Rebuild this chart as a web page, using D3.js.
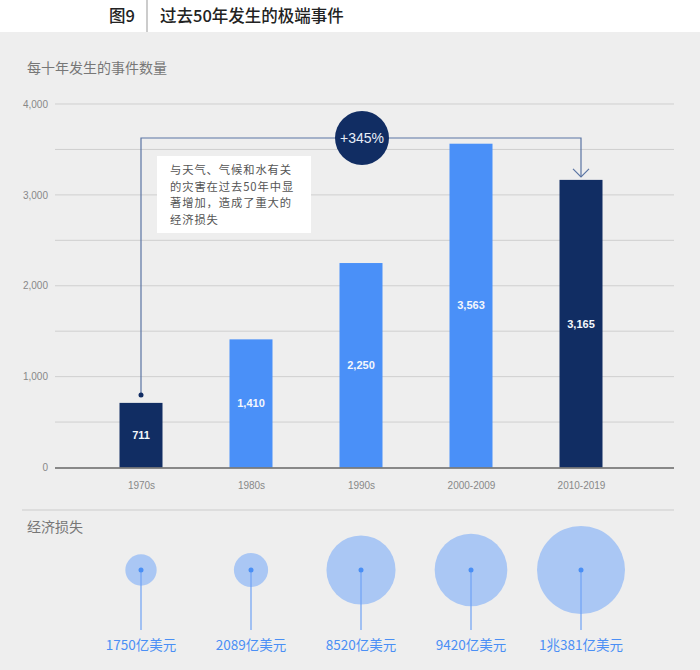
<!DOCTYPE html>
<html>
<head>
<meta charset="utf-8">
<script src="https://cdn.jsdelivr.net/npm/d3@7"></script>
<style>
  body { margin: 0; background: #eeeeee; }
  svg { display: block; }
</style>
</head>
<body>
<div id="chart"></div>
<script>
// data
var decades = ["1970s", "1980s", "1990s", "2000-2009", "2010-2019"];
var eventCounts = [711, 1410, 2250, 3563, 3165];
var highlight = [true, false, false, false, true];
var lossValues = [175, 208.9, 852, 942, 1381]; // 十亿美元
var lossLabels = ["1750亿美元", "2089亿美元", "8520亿美元", "9420亿美元", "1兆381亿美元"];
var yTicks = [0, 1000, 2000, 3000, 4000];
var noteLines = ["与天气、气候和水有关", "的灾害在过去50年中显", "著增加，造成了重大的", "经济损失"];

var svgWidth = 700;
var svgHeight = 670;
var cjk = "'Noto Sans CJK SC', 'Noto Sans', sans-serif";
var latin = "'Liberation Sans', Arial, sans-serif";

var svg = d3.select("#chart")
  .append("svg")
  .attr("width", svgWidth)
  .attr("height", svgHeight);

svg.append("rect")
  .attr("width", svgWidth).attr("height", svgHeight)
  .attr("fill", "#eeeeee");

// header band
svg.append("rect")
  .attr("width", svgWidth).attr("height", 32)
  .attr("fill", "#ffffff");
svg.append("line")
  .attr("x1", 147).attr("x2", 147).attr("y1", 0).attr("y2", 32)
  .attr("stroke", "#999").attr("stroke-width", 1);
svg.append("text")
  .attr("x", 135).attr("y", 22)
  .attr("text-anchor", "end")
  .style("font-family", cjk).style("font-size", "16.5px").style("font-weight", 500).style("fill", "#222")
  .text("图9");
svg.append("text")
  .attr("x", 160).attr("y", 22)
  .style("font-family", cjk).style("font-size", "16.5px").style("font-weight", 500).style("fill", "#222")
  .text("过去50年发生的极端事件");

svg.append("text")
  .attr("x", 27).attr("y", 73)
  .style("font-family", cjk).style("font-size", "14px").style("fill", "#777")
  .text("每十年发生的事件数量");

// scales
var x = d3.scalePoint()
  .domain(decades)
  .range([86, 636])
  .padding(0.5);

var y = d3.scaleLinear()
  .domain([0, 4000])
  .range([467.5, 104]);

var barWidth = 43;

// gridlines every 500, labels every 1000
var grid = svg.append("g");
grid.selectAll("line")
  .data(d3.range(500, 4001, 500))
  .enter()
  .append("line")
  .attr("x1", 55).attr("x2", 674)
  .attr("y1", d => y(d)).attr("y2", d => y(d))
  .attr("stroke", "#cfcfcf").attr("stroke-width", 1);

var leftAxis = d3.axisLeft(y)
  .tickValues(yTicks)
  .tickFormat(d3.format(","))
  .tickSize(0)
  .tickPadding(0);

svg.append("g")
  .attr("transform", "translate(48,0)")
  .call(leftAxis)
  .call(g => g.select(".domain").remove())
  .selectAll("text")
  .style("font-family", latin).style("font-size", "10px").style("fill", "#888");

// bars
svg.append("g")
  .selectAll("rect")
  .data(eventCounts)
  .enter()
  .append("rect")
  .attr("x", (d, i) => x(decades[i]) - barWidth / 2)
  .attr("y", d => y(d))
  .attr("width", barWidth)
  .attr("height", d => y(0) - y(d))
  .attr("fill", (d, i) => highlight[i] ? "#112d63" : "#4a90f8");

svg.append("g")
  .selectAll("text")
  .data(eventCounts)
  .enter()
  .append("text")
  .attr("x", (d, i) => x(decades[i]))
  .attr("y", d => (y(d) + y(0)) / 2)
  .attr("dy", "0.35em")
  .attr("text-anchor", "middle")
  .style("font-family", latin).style("font-size", "11px").style("font-weight", "bold")
  .style("fill", "#f4f7fc")
  .text(d => d3.format(",")(d));

// baseline axis
var bottomAxis = d3.axisBottom(x).tickSize(0).tickPadding(14);
svg.append("g")
  .attr("transform", `translate(0, ${y(0)})`)
  .call(bottomAxis)
  .call(g => g.select(".domain").remove())
  .selectAll("text")
  .style("font-family", latin).style("font-size", "10px").style("fill", "#888");

svg.append("line")
  .attr("x1", 55).attr("x2", 674)
  .attr("y1", y(0) + 0.5).attr("y2", y(0) + 0.5)
  .attr("stroke", "#666").attr("stroke-width", 1.5);

// annotation bracket
var xs = x(decades[0]);
var xe = x(decades[4]);
var topY = 138;
var arrowY = y(eventCounts[4]) - 3;
var lineColor = "#5a74a3";

svg.append("path")
  .attr("d", `M${xs},${y(eventCounts[0]) - 8}V${topY}H${xe}V${arrowY}`)
  .attr("fill", "none").attr("stroke", lineColor).attr("stroke-width", 1.2);
svg.append("path")
  .attr("d", `M${xe - 8},${arrowY - 8}L${xe},${arrowY}L${xe + 8},${arrowY - 8}`)
  .attr("fill", "none").attr("stroke", lineColor).attr("stroke-width", 1.2);
svg.append("circle")
  .attr("cx", xs).attr("cy", y(eventCounts[0]) - 8).attr("r", 2.5)
  .attr("fill", "#112d63");

svg.append("circle")
  .attr("cx", (xs + xe) / 2 + 1).attr("cy", topY).attr("r", 27)
  .attr("fill", "#112d63");
svg.append("text")
  .attr("x", (xs + xe) / 2 + 1).attr("y", topY)
  .attr("dy", "0.35em")
  .attr("text-anchor", "middle")
  .style("font-family", latin).style("font-size", "14px").style("fill", "#e8eef8")
  .text("+" + Math.round((eventCounts[4] - eventCounts[0]) / eventCounts[0] * 100) + "%");

// note box
svg.append("rect")
  .attr("x", 157).attr("y", 156).attr("width", 154).attr("height", 77)
  .attr("fill", "#ffffff");
var note = svg.append("text")
  .attr("x", 170)
  .attr("y", 174)
  .style("font-family", cjk).style("font-size", "11.3px").style("letter-spacing", "0.9px")
  .style("fill", "#555");
note.selectAll("tspan")
  .data(noteLines)
  .enter()
  .append("tspan")
  .attr("x", 170)
  .attr("dy", (d, i) => i === 0 ? 0 : 16.6)
  .text(d => d);

// separator
svg.append("line")
  .attr("x1", 22).attr("x2", 674).attr("y1", 510).attr("y2", 510)
  .attr("stroke", "#cccccc").attr("stroke-width", 1);
svg.append("text")
  .attr("x", 27).attr("y", 532)
  .style("font-family", cjk).style("font-size", "14px").style("fill", "#777")
  .text("经济损失");

// economic loss bubbles
var r = d3.scaleSqrt()
  .domain([0, d3.max(lossValues)])
  .range([0, 44]);
var bubbleY = 570;

var bubbles = svg.append("g")
  .selectAll("g")
  .data(lossValues)
  .enter()
  .append("g")
  .attr("transform", (d, i) => `translate(${x(decades[i])}, ${bubbleY})`);

bubbles.append("circle")
  .attr("r", d => r(d))
  .attr("fill", "#aac7f4");
bubbles.append("line")
  .attr("x1", 0).attr("x2", 0).attr("y1", 0).attr("y2", 60)
  .attr("stroke", "#6ea2f5").attr("stroke-width", 1.2);
bubbles.append("circle")
  .attr("r", 2.5)
  .attr("fill", "#4a8ff5");
bubbles.append("text")
  .attr("y", 80)
  .attr("text-anchor", "middle")
  .style("font-family", cjk).style("font-size", "13.5px").style("fill", "#4a8ff5")
  .text((d, i) => lossLabels[i]);
</script>
</body>
</html>
